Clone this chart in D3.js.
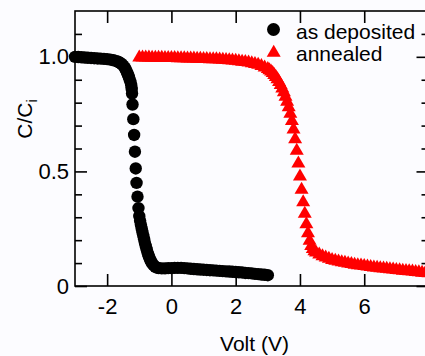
<!DOCTYPE html>
<html><head><meta charset="utf-8">
<script src="https://cdn.jsdelivr.net/npm/d3@7"></script>
<style>
html,body{margin:0;padding:0;background:#fcfcff;}
svg{display:block;}
text{font-family:"Liberation Sans",Arial,sans-serif;fill:#000;}
</style></head>
<body>
<svg id="c" width="425" height="356"></svg>
<script>
// ---- data (Volt, C/Ci) ----
const asDeposited = [
[-3.0,1.000],[-2.9,0.999],[-2.8,0.998],[-2.7,0.997],[-2.6,0.996],[-2.5,0.995],[-2.4,0.994],[-2.3,0.993],
[-2.2,0.992],[-2.1,0.991],[-2.0,0.990],[-1.9,0.988],[-1.8,0.985],[-1.7,0.981],[-1.65,0.978],[-1.6,0.974],
[-1.55,0.969],[-1.5,0.962],[-1.45,0.953],[-1.425,0.946],[-1.4,0.938],[-1.375,0.930],[-1.35,0.921],[-1.325,0.912],
[-1.3,0.902],[-1.275,0.891],[-1.25,0.876],[-1.235,0.860],[-1.225,0.840],[-1.21,0.792],[-1.185,0.728],[-1.16,0.659],
[-1.135,0.586],[-1.11,0.513],[-1.085,0.450],[-1.055,0.390],[-1.025,0.340],[-1.0,0.305],[-0.975,0.285],[-0.95,0.268],
[-0.925,0.251],[-0.9,0.235],[-0.875,0.219],[-0.85,0.204],[-0.825,0.189],[-0.8,0.175],[-0.775,0.162],[-0.75,0.150],
[-0.725,0.139],[-0.7,0.129],[-0.675,0.120],[-0.65,0.112],[-0.625,0.105],[-0.6,0.099],[-0.55,0.090],[-0.5,0.084],
[-0.45,0.080],[-0.4,0.078],[-0.3,0.077],[-0.2,0.077],[-0.1,0.078],[0.0,0.078],[0.1,0.079],[0.2,0.079],
[0.3,0.079],[0.4,0.078],[0.5,0.077],[0.6,0.075],[0.7,0.074],[0.8,0.073],[0.9,0.072],[1.0,0.071],
[1.1,0.070],[1.2,0.069],[1.3,0.068],[1.4,0.067],[1.5,0.066],[1.6,0.065],[1.7,0.064],[1.8,0.063],
[1.9,0.062],[2.0,0.061],[2.1,0.060],[2.2,0.059],[2.3,0.057],[2.4,0.056],[2.5,0.055],[2.6,0.053],
[2.7,0.052],[2.8,0.050],[2.9,0.049],[3.0,0.047]
];
const annealed = [
[-1.0,0.997],[-0.9,0.997],[-0.8,0.997],[-0.7,0.997],[-0.6,0.996],[-0.5,0.996],[-0.4,0.996],[-0.3,0.996],
[-0.2,0.995],[-0.1,0.995],[0.0,0.995],[0.1,0.995],[0.2,0.994],[0.3,0.994],[0.4,0.994],[0.5,0.993],
[0.6,0.993],[0.7,0.993],[0.8,0.992],[0.9,0.992],[1.0,0.991],[1.1,0.991],[1.2,0.990],[1.3,0.990],
[1.4,0.989],[1.5,0.988],[1.6,0.987],[1.7,0.986],[1.8,0.985],[1.9,0.984],[2.0,0.983],[2.1,0.981],
[2.2,0.979],[2.3,0.977],[2.4,0.975],[2.5,0.972],[2.6,0.969],[2.7,0.965],[2.8,0.960],[2.9,0.954],
[3.0,0.947],[3.05,0.942],[3.1,0.936],[3.15,0.929],[3.2,0.921],[3.25,0.912],[3.3,0.902],[3.35,0.890],
[3.4,0.877],[3.45,0.862],[3.5,0.846],[3.55,0.826],[3.6,0.804],[3.65,0.780],[3.7,0.752],[3.75,0.720],
[3.8,0.683],[3.85,0.640],[3.9,0.590],[3.95,0.535],[4.0,0.478],[4.05,0.420],[4.1,0.365],[4.15,0.315],
[4.2,0.270],[4.25,0.230],[4.3,0.197],[4.35,0.175],[4.4,0.161],[4.45,0.152],[4.5,0.146],[4.6,0.137],
[4.7,0.130],[4.8,0.124],[4.9,0.119],[5.0,0.114],[5.1,0.110],[5.2,0.107],[5.3,0.104],[5.4,0.101],
[5.5,0.098],[5.6,0.096],[5.7,0.093],[5.8,0.091],[5.9,0.089],[6.0,0.087],[6.1,0.085],[6.2,0.083],
[6.3,0.081],[6.4,0.080],[6.5,0.078],[6.6,0.076],[6.7,0.075],[6.8,0.073],[6.9,0.072],[7.0,0.070],
[7.1,0.069],[7.2,0.067],[7.3,0.066],[7.4,0.064],[7.5,0.063],[7.6,0.061],[7.7,0.060],[7.8,0.058],
[7.9,0.057],[8.0,0.056]
];
const xTicks = [-2, 0, 2, 4, 6];
const yMajor = [0, 0.5, 1.0];
const yMinor = [0.1, 0.2, 0.3, 0.4, 0.6, 0.7, 0.8, 0.9, 1.1];
const yTickLabels = ["0", "0.5", "1.0"];
const seriesNames = ["as deposited", "annealed"];
const xTitle = "Volt (V)";

// ---- layout ----
const L = 75, R = 428.5, T = 11, B = 286;
const svg = d3.select("#c");
const x = d3.scaleLinear().domain([-3, 8]).range([L, R]);
const y = d3.scaleLinear().domain([0, 1.2]).range([B, T]);

function style(g){ g.select(".domain").remove(); g.selectAll("line").attr("stroke","#000").attr("stroke-width",1.6); g.selectAll("text").attr("font-size",22).attr("font-family","Liberation Sans, Arial, sans-serif"); }

// bottom
svg.append("g").attr("transform",`translate(0,${B})`)
  .call(d3.axisBottom(x).tickValues(xTicks).tickSizeInner(-12).tickSizeOuter(0).tickPadding(12).tickFormat(d=>d))
  .call(style).call(g=>g.selectAll("text").text(d=>d<0?"-"+Math.abs(d):d));
// top
svg.append("g").attr("transform",`translate(0,${T})`)
  .call(d3.axisTop(x).tickValues(xTicks).tickSizeInner(-12).tickSizeOuter(0).tickFormat(""))
  .call(style);
// left
svg.append("g").attr("transform",`translate(${L},0)`)
  .call(d3.axisLeft(y).tickValues(yMajor).tickSizeInner(-12).tickSizeOuter(0).tickPadding(6).tickFormat((d,i)=>yTickLabels[i]))
  .call(style);
svg.append("g").attr("transform",`translate(${L},0)`)
  .call(d3.axisLeft(y).tickValues(yMinor).tickSizeInner(-7).tickSizeOuter(0).tickFormat(""))
  .call(style);
// right
svg.append("g").attr("transform",`translate(${R},0)`)
  .call(d3.axisRight(y).tickValues(yMajor).tickSizeInner(-12).tickSizeOuter(0).tickFormat(""))
  .call(style);
svg.append("g").attr("transform",`translate(${R},0)`)
  .call(d3.axisRight(y).tickValues(yMinor).tickSizeInner(-7).tickSizeOuter(0).tickFormat(""))
  .call(style);

// frame
svg.append("rect").attr("x",L).attr("y",T).attr("width",R-L).attr("height",B-T)
  .attr("fill","none").attr("stroke","#000").attr("stroke-width",1.6);

// triangle path (centroid-centered)
function tri(w,h){ return `M0,${-2*h/3}L${w/2},${h/3}L${-w/2},${h/3}Z`; }

// series
svg.append("g").selectAll("circle").data(asDeposited).join("circle")
  .attr("cx",d=>x(d[0])).attr("cy",d=>y(d[1])).attr("r",6.2).attr("fill","#000");
svg.append("g").selectAll("path").data(annealed).join("path")
  .attr("transform",d=>`translate(${x(d[0])},${y(d[1])})`).attr("d",tri(14,12)).attr("fill","#ff0000");

// legend
const lg = svg.append("g");
lg.append("circle").attr("cx",273.5).attr("cy",29.5).attr("r",6.5).attr("fill","#000");
lg.append("path").attr("transform","translate(273.7,52.8)").attr("d",tri(14,12)).attr("fill","#ff0000");
lg.append("text").attr("x",296).attr("y",39).attr("font-size",21).text(seriesNames[0]);
lg.append("text").attr("x",296).attr("y",61).attr("font-size",21).text(seriesNames[1]);

// axis titles
svg.append("text").attr("x",254.5).attr("y",351).attr("text-anchor","middle").attr("font-size",21).text(xTitle);
const yt = svg.append("text").attr("transform","translate(32,119) rotate(-90)").attr("text-anchor","middle").attr("font-size",21);
yt.append("tspan").text("C/C");
yt.append("tspan").attr("font-size",14).attr("dy",5).text("i");
</script>
</body></html>
